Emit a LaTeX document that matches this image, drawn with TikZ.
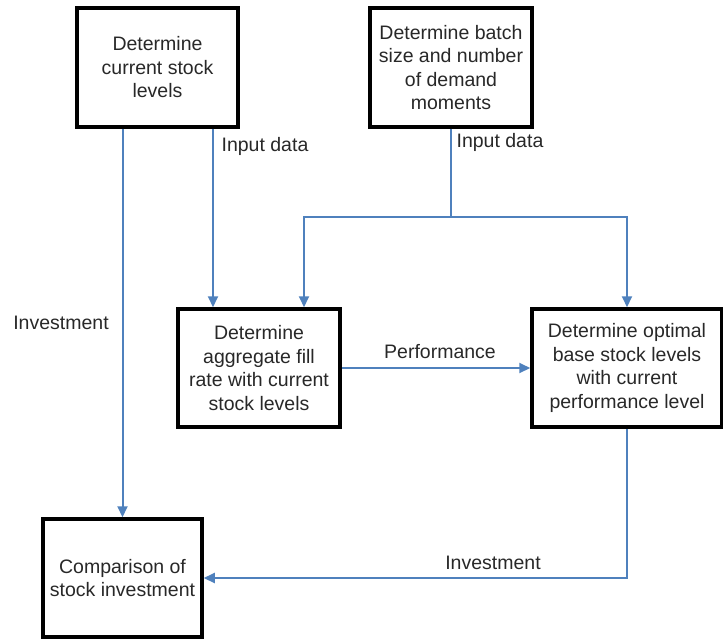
\documentclass[tikz,border=0pt]{standalone}
\usepackage{fontspec}
\setmainfont{Liberation Sans}
\usetikzlibrary{arrows.meta,positioning}
\definecolor{flowblue}{RGB}{79,129,189}
\definecolor{inkgray}{RGB}{40,40,40}
\begin{document}
\begin{tikzpicture}[x=1pt,y=-1pt,
  stepbox/.style={draw=black, line width=3.5pt, fill=white, align=center,
    text=inkgray, inner sep=2pt, font=\fontsize{19.5}{23.5}\selectfont},
  flow/.style={draw=flowblue, line width=2pt,
    -{Triangle[length=11pt,width=10pt]}},
  flowline/.style={draw=flowblue, line width=2pt},
  tag/.style={text=inkgray, font=\fontsize{19.5}{23.5}\selectfont, inner sep=0pt}]
\useasboundingbox (0,0) rectangle (723,638);

% process boxes
\node[stepbox, minimum width=161pt, minimum height=119pt] (b1) at (157.5,67.5)
  {Determine\\current stock\\levels};
\node[stepbox, minimum width=162pt, minimum height=119pt] (b2) at (451,67.5)
  {Determine batch\\size and number\\of demand\\moments};
\node[stepbox, minimum width=162pt, minimum height=118pt] (b3) at (259,368)
  {Determine\\aggregate fill\\rate with current\\stock levels};
\node[stepbox, minimum width=190pt, minimum height=118pt] (b4) at (627,368)
  {Determine optimal\\base stock levels\\with current\\performance level};
\node[stepbox, minimum width=159pt, minimum height=118pt] (b5) at (122.5,578)
  {Comparison of\\stock investment};

% routing points
\coordinate (in1) at (213,0);
\coordinate (split) at (451,217);
\coordinate (in2) at (304,0);

% connectors
\draw[flow] (b1.south -| b5.north) -- (b5.north);
\draw[flow] (b1.south -| in1) -- (b3.north -| in1);
\draw[flowline] (b2.south) -- (split);
\draw[flow] (split) -| (b3.north -| in2);
\draw[flow] (split) -| (b4.north);
\draw[flow] (b3.east) -- (b4.west);
\draw[flow] (b4.south) |- (b5.east);

% connector labels
\node[tag] (l1) at (265,146) {Input data};
\node[tag] (l2) at (500,142) {Input data};
\node[tag] (l3) at (61,323) {Investment};
\node[tag] (l4) at (440,352) {Performance};
\node[tag] (l5) at (493,563) {Investment};
\end{tikzpicture}
\end{document}
